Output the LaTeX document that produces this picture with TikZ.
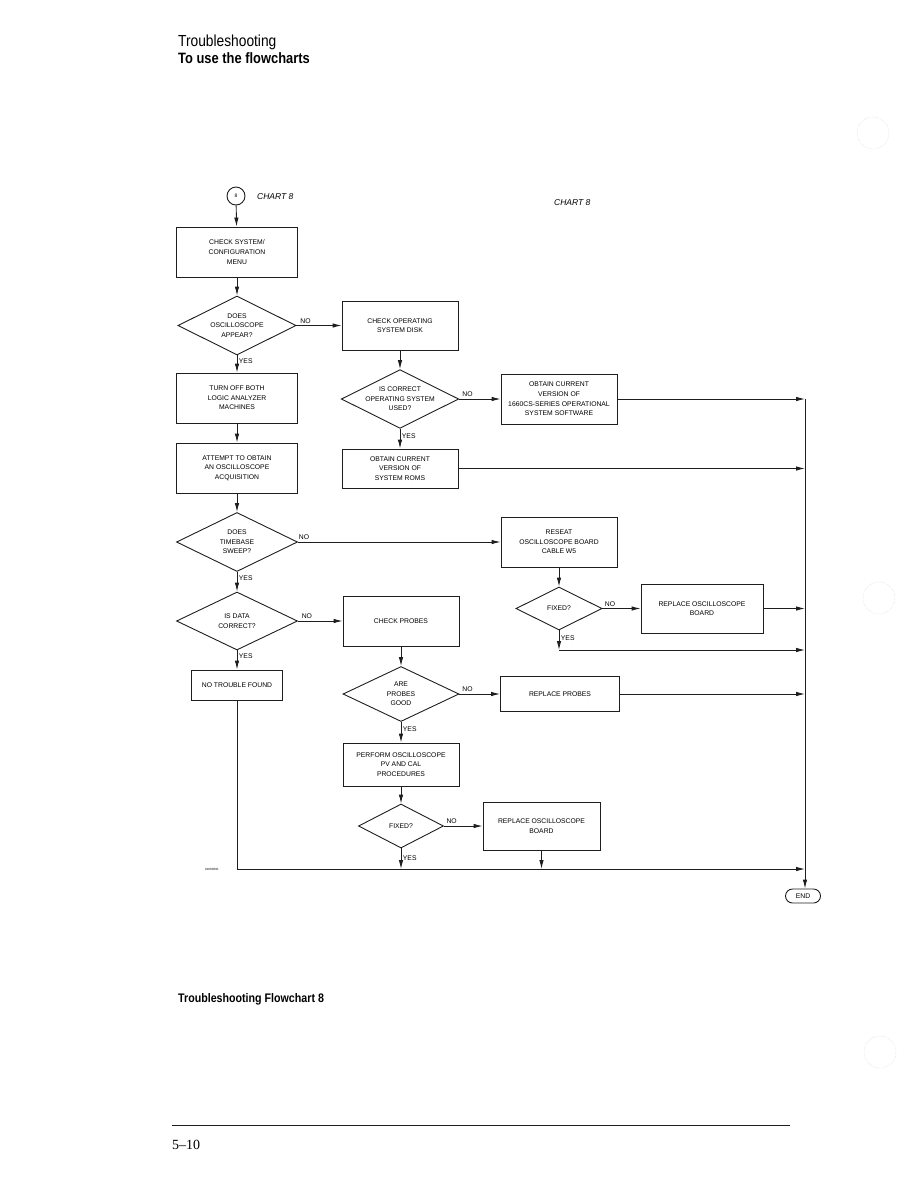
\documentclass[tikz,border=0pt]{standalone}
\usepackage{fontspec}
\setmainfont{Liberation Sans}
\newfontfamily\pagefont{Liberation Serif}
\newfontfamily\headfont[FakeStretch=0.86]{Liberation Sans}
\usetikzlibrary{shapes.geometric,shapes.misc,arrows.meta,positioning}
\definecolor{inkgray}{RGB}{30,30,30}
\newcommand\chartfont{\fontsize{6.8}{9.6}\selectfont}
\tikzset{
  stepbox/.style={rectangle, draw=inkgray, line width=0.9pt,
                  minimum width=121pt, minimum height=50pt,
                  align=center, font=\chartfont, inner sep=1pt},
  test/.style={diamond, shape aspect=2, draw=inkgray, line width=0.9pt,
               minimum width=120pt, minimum height=58pt, inner sep=0pt,
               align=center, font=\chartfont},
  endcap/.style={rounded rectangle, draw=inkgray, line width=0.9pt,
                 minimum width=37pt, minimum height=14pt, inner sep=1pt,
                 font=\chartfont},
  flow/.style={-{Latex[length=9pt,width=4.5pt]}, line width=0.9pt, draw=inkgray},
  answer/.style={font=\chartfont, inner sep=1.5pt},
  chartname/.style={font=\fontsize{8.5}{10}\selectfont\itshape, inner sep=0pt, anchor=west}
}

\begin{document}
\begin{tikzpicture}[x=1pt, y=-1pt]
\useasboundingbox (0,0) rectangle (918,1187);
% page heading
\node[anchor=base west, inner sep=0pt, font=\headfont\fontsize{16}{18}\selectfont] (pagehead) at (178,46) {Troubleshooting};
\node[anchor=base west, inner sep=0pt, font=\headfont\bfseries\fontsize{15}{17}\selectfont] (pagetitle) at (178,63) {To use the flowcharts};

% entry and chart names
\node[circle, draw=inkgray, line width=0.9pt, minimum size=18pt, inner sep=0pt, font=\fontsize{5}{6}\selectfont] (start) at (236,196) {8};
\node[chartname] (chartleft) at (257,197) {CHART 8};
\node[chartname] (chartright) at (554,203) {CHART 8};

% left column
\node[stepbox] (sysmenu) at (237,252) {CHECK SYSTEM/\\CONFIGURATION\\MENU};
\node[test, minimum width=118pt, minimum height=59pt] (scopeok) at (237,325.5) {DOES\\OSCILLOSCOPE\\APPEAR?};
\node[stepbox] (turnoff) at (237,398) {TURN OFF BOTH\\LOGIC ANALYZER\\MACHINES};
\node[stepbox] (acquire) at (237,468) {ATTEMPT TO OBTAIN\\AN OSCILLOSCOPE\\ACQUISITION};
\node[test, minimum width=121pt, minimum height=59pt] (sweep) at (237,542) {DOES\\TIMEBASE\\SWEEP?};
\node[test, minimum width=121pt] (datacheck) at (237,621) {IS DATA\\CORRECT?};
\node[stepbox, minimum width=91pt, minimum height=30pt] (notrouble) at (237,685) {NO TROUBLE FOUND};

% middle column
\node[stepbox, minimum width=116pt, minimum height=49pt] (osdisk) at (400,325.5) {CHECK OPERATING\\SYSTEM DISK};
\node[test, minimum width=117pt, minimum height=57pt] (oscheck) at (400,399) {IS CORRECT\\OPERATING SYSTEM\\USED?};
\node[stepbox, minimum width=116pt, minimum height=39pt] (roms) at (400,468.5) {OBTAIN CURRENT\\VERSION OF\\SYSTEM ROMS};
\node[stepbox, minimum width=116pt, minimum height=50pt] (probes) at (401,621) {CHECK PROBES};
\node[test, minimum width=116pt, minimum height=55pt] (probesok) at (401,694) {ARE\\PROBES\\GOOD};
\node[stepbox, minimum width=116pt, minimum height=43pt] (pvcal) at (401,764.5) {PERFORM OSCILLOSCOPE\\PV AND CAL\\PROCEDURES};
\node[test, minimum width=85pt, minimum height=44pt] (fixedlow) at (401,826) {FIXED?};

% right column
\node[stepbox, minimum width=116pt] (software) at (559,399) {OBTAIN CURRENT\\VERSION OF\\1660CS-SERIES OPERATIONAL\\SYSTEM SOFTWARE};
\node[stepbox, minimum width=116pt] (reseat) at (559,542) {RESEAT\\OSCILLOSCOPE BOARD\\CABLE W5};
\node[test, minimum width=86pt, minimum height=43pt] (fixedup) at (559,608.5) {FIXED?};
\node[stepbox, minimum width=122pt, minimum height=49pt] (boardup) at (702,608.5) {REPLACE OSCILLOSCOPE\\BOARD};
\node[stepbox, minimum width=119pt, minimum height=35pt] (newprobes) at (560,694) {REPLACE PROBES};
\node[stepbox, minimum width=117pt, minimum height=48pt] (boardlow) at (541.5,826) {REPLACE OSCILLOSCOPE\\BOARD};

% exit
\coordinate (bus) at (805,869);
\coordinate (fixedyes) at (559,650);
\node[endcap] (finish) at (803,896) {END};
\node[font=\fontsize{3}{3}\selectfont, inner sep=0pt] (figno) at (212,869) {01660E01};

% connectors, left column
\draw[flow] (start) -- (sysmenu);
\draw[flow] (sysmenu) -- (scopeok);
\draw[flow] (scopeok) -- node[answer, pos=0.35, right] {YES} (turnoff);
\draw[flow] (turnoff) -- (acquire);
\draw[flow] (acquire) -- (sweep);
\draw[flow] (sweep) -- node[answer, pos=0.3, right] {YES} (datacheck);
\draw[flow] (datacheck) -- node[answer, pos=0.3, right] {YES} (notrouble);
\draw[flow] (notrouble) |- (bus);

% connectors, middle column
\draw[flow] (scopeok) -- node[answer, pos=0.2, above] {NO} (osdisk);
\draw[flow] (osdisk) -- (oscheck);
\draw[flow] (oscheck) -- node[answer, pos=0.35, right] {YES} (roms);
\draw[flow] (oscheck) -- node[answer, pos=0.2, above] {NO} (software);
\draw[flow] (datacheck) -- node[answer, pos=0.2, above] {NO} (probes);
\draw[flow] (probes) -- (probesok);
\draw[flow] (probesok) -- node[answer, pos=0.35, right] {YES} (pvcal);
\draw[flow] (pvcal) -- (fixedlow);
\draw[flow] (fixedlow) -- node[answer, pos=0.2, above] {NO} (boardlow);
\draw[flow] (fixedlow) -- node[answer, pos=0.45, right] {YES} (fixedlow.south |- bus);
\draw[flow] (boardlow) -- (boardlow.south |- bus);

% connectors, right column
\draw[flow] (sweep) -- node[answer, pos=0.03, above] {NO} (reseat);
\draw[flow] (reseat) -- (fixedup);
\draw[flow] (fixedup) -- node[answer, pos=0.2, above] {NO} (boardup);
\draw[flow] (fixedup) -- node[answer, pos=0.4, right] {YES} (fixedyes);
\draw[flow] (probesok) -- node[answer, pos=0.2, above] {NO} (newprobes);

% into the right bus
\draw[flow] (software) -- (software -| bus);
\draw[flow] (roms) -- (roms -| bus);
\draw[flow] (boardup) -- (boardup -| bus);
\draw[flow] (fixedyes) -- (fixedyes -| bus);
\draw[flow] (newprobes) -- (newprobes -| bus);
\draw[flow] (software -| bus) -- (bus |- finish.north);

% caption and page foot
\node[anchor=base west, inner sep=0pt, font=\headfont\bfseries\fontsize{12.4}{14}\selectfont] (caption) at (178,1002) {Troubleshooting Flowchart 8};
\draw[line width=0.8pt, inkgray] (172,1125) -- (790,1125);
\node[anchor=base west, inner sep=0pt, font=\pagefont\fontsize{14}{16}\selectfont] (pageno) at (172,1149) {5\textendash 10};

% punch holes
\draw[gray!40, densely dotted] (873,133) circle (16);
\draw[gray!40, densely dotted] (879,598) circle (16);
\draw[gray!40, densely dotted] (880,1052) circle (16);
\end{tikzpicture}
\end{document}
